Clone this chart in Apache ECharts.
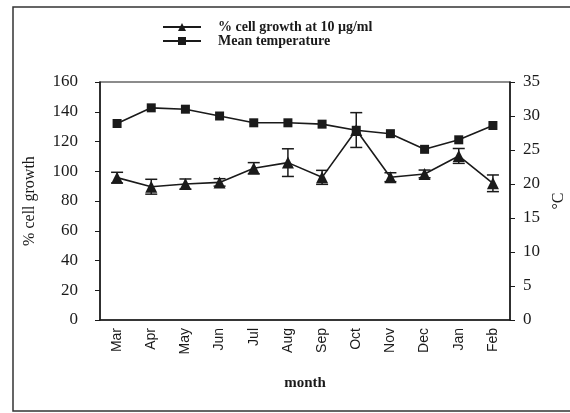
<!DOCTYPE html>
<html><head><meta charset="utf-8">
<script src="https://cdn.jsdelivr.net/npm/echarts@6/dist/echarts.min.js"></script>
<style>html,body{margin:0;padding:0;background:#fff}#c{width:570px;height:413px}</style>
</head><body><div id="c"></div>
<script>
const months = ['Mar','Apr','May','Jun','Jul','Aug','Sep','Oct','Nov','Dec','Jan','Feb'];
const growth = [95.7, 89.6, 91.4, 92.5, 102, 105.8, 95.9, 127.7, 96, 98.2, 110.3, 91.9];
const growthErr = [3.6, 5, 3.4, 2.5, 3.8, 9.3, 4.7, 11.7, 3, 2.6, 5, 5.6];
const temperature = [28.9, 31.2, 31.0, 30.0, 29.0, 29.0, 28.8, 27.9, 27.4, 25.1, 26.5, 28.6];
const leftTicks = {min: 0, max: 160, interval: 20};
const rightTicks = {min: 0, max: 35, interval: 5};

const serif = '"Liberation Serif", "Times New Roman", serif';
const sans = '"Liberation Sans", Arial, sans-serif';
const ink = '#1a1a1a';

const chart = echarts.init(document.getElementById('c'), null, {renderer: 'canvas'});
chart.setOption({
  animation: false,
  backgroundColor: '#fff',
  graphic: [{
    type: 'rect', shape: {x: 13, y: 7, width: 620, height: 404},
    style: {fill: 'none', stroke: '#333', lineWidth: 1.5}, silent: true
  }],
  legend: {
    left: 157, top: 15, orient: 'vertical', itemGap: 0,
    itemWidth: 38, itemHeight: 10,
    textStyle: {fontFamily: serif, fontSize: 14, fontWeight: 'bold', color: ink, padding: [0, 0, 0, 12]},
    data: ['% cell growth at 10 µg/ml', 'Mean temperature']
  },
  grid: {left: 100, right: 60, top: 82, bottom: 93, show: true, borderColor: ink, borderWidth: 1.2,
    containLabel: false, outerBoundsMode: 'none'},
  xAxis: {
    type: 'category', data: months, boundaryGap: true,
    name: 'month', nameLocation: 'middle', nameGap: 56,
    nameTextStyle: {fontFamily: serif, fontSize: 15, fontWeight: 'bold', color: ink},
    axisLine: {lineStyle: {color: ink, width: 1.5}},
    axisTick: {inside: true, length: 4, lineStyle: {color: ink}},
    axisLabel: {rotate: 90, fontFamily: sans, fontSize: 14, color: ink, margin: 8}
  },
  yAxis: [{
    type: 'value', min: leftTicks.min, max: leftTicks.max, interval: leftTicks.interval,
    name: '% cell growth', nameLocation: 'middle', nameGap: 62, nameRotate: 90,
    nameTextStyle: {fontFamily: serif, fontSize: 16, color: ink},
    axisLine: {show: true, lineStyle: {color: ink, width: 1.5}},
    axisTick: {show: true, length: 5, lineStyle: {color: ink}},
    axisLabel: {fontFamily: serif, fontSize: 17, color: ink, margin: 22},
    splitLine: {show: false}
  }, {
    type: 'value', position: 'right', min: rightTicks.min, max: rightTicks.max, interval: rightTicks.interval,
    name: '°C', nameLocation: 'middle', nameGap: 41, nameRotate: 90,
    nameTextStyle: {fontFamily: serif, fontSize: 16, color: ink},
    axisLine: {show: true, lineStyle: {color: ink, width: 1.5}},
    axisTick: {show: true, length: 5, lineStyle: {color: ink}},
    axisLabel: {fontFamily: serif, fontSize: 17, color: ink, margin: 13},
    splitLine: {show: false}
  }],
  series: [{
    name: '% cell growth at 10 µg/ml', type: 'line', yAxisIndex: 0, data: growth,
    symbol: 'triangle', symbolSize: 12,
    lineStyle: {color: ink, width: 1.6}, itemStyle: {color: ink}, z: 3
  }, {
    name: 'Mean temperature', type: 'line', yAxisIndex: 1, data: temperature,
    symbol: 'rect', symbolSize: 9,
    lineStyle: {color: ink, width: 1.6}, itemStyle: {color: ink}, z: 3
  }, {
    name: 'err', type: 'custom', yAxisIndex: 0,
    data: growth.map((v, i) => [i, v - growthErr[i], v + growthErr[i]]),
    renderItem: function (params, api) {
      const lo = api.coord([api.value(0), api.value(1)]);
      const hi = api.coord([api.value(0), api.value(2)]);
      const w = 6;
      const st = {stroke: ink, lineWidth: 1.5};
      return {type: 'group', children: [
        {type: 'line', shape: {x1: hi[0], y1: hi[1], x2: lo[0], y2: lo[1]}, style: st},
        {type: 'line', shape: {x1: hi[0] - w, y1: hi[1], x2: hi[0] + w, y2: hi[1]}, style: st},
        {type: 'line', shape: {x1: lo[0] - w, y1: lo[1], x2: lo[0] + w, y2: lo[1]}, style: st}
      ]};
    },
    z: 2, silent: true
  }]
});
</script></body></html>
